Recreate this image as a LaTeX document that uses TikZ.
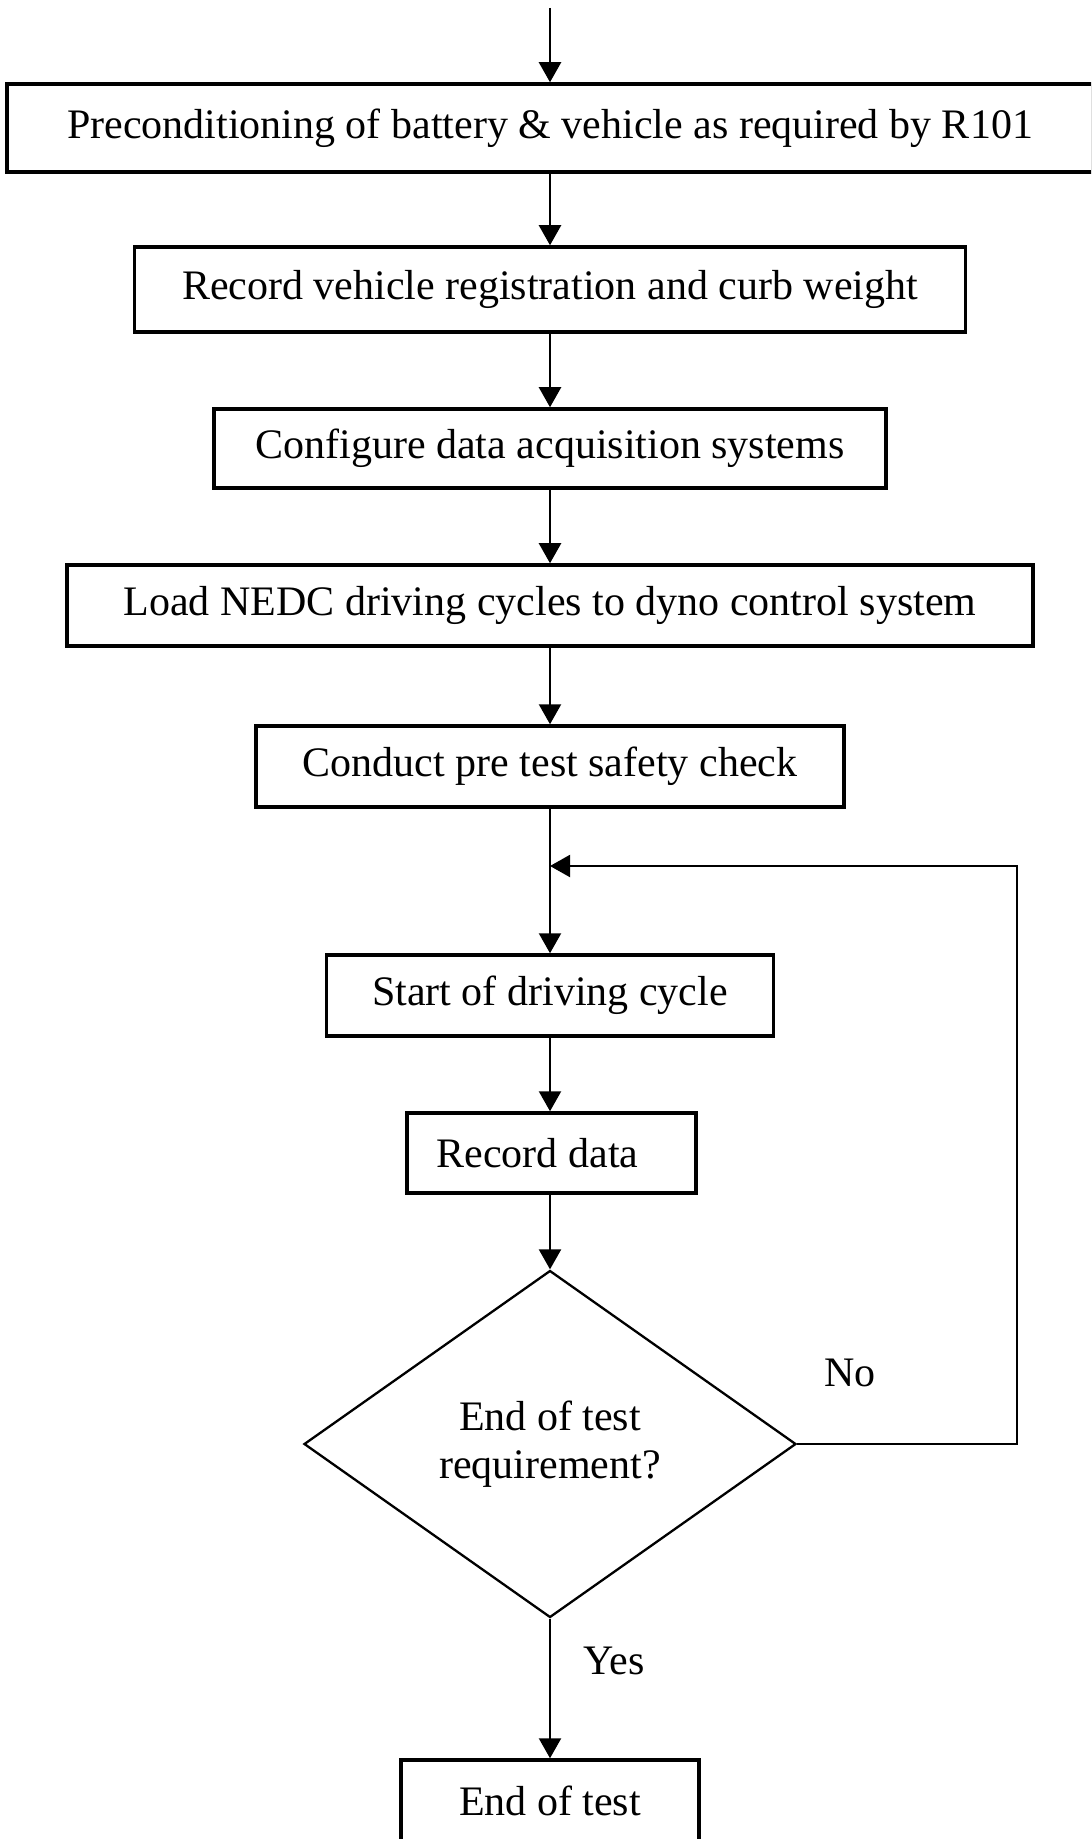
\documentclass[tikz,border=0pt]{standalone}
\usepackage{fontspec}
\setmainfont{Liberation Serif}
\usetikzlibrary{arrows.meta,shapes.geometric}
\begin{document}
\begin{tikzpicture}[x=0.5pt,y=-0.5pt,
  txt/.style={font=\fontsize{21}{24}\selectfont},
  box/.style={txt,draw,line width=1.75pt,inner sep=0pt,align=center},
  arr/.style={-{Triangle[length=10pt,width=11pt]},line width=1.15pt},
  loopline/.style={line width=1pt}]
\useasboundingbox (0,0) rectangle (1091,1839);
\clip (0,0) rectangle (1091,1839);
\node[box,minimum width=543pt,minimum height=44pt] (b1) at (550,128) {Preconditioning of battery \& vehicle as required by R101};
\node[box,minimum width=415.5pt,minimum height=42.5pt] (b2) at (550,289.5) {Record vehicle registration and curb weight};
\node[box,minimum width=336pt,minimum height=39.5pt] (b3) at (550,448.5) {Configure data acquisition systems};
\node[box,minimum width=483pt,minimum height=40.5pt] (b4) at (550,605.5) {Load NEDC driving cycles to dyno control system};
\node[box,minimum width=294pt,minimum height=40.5pt] (b5) at (550,766.5) {Conduct pre test safety check};
\node[box,minimum width=223.5pt,minimum height=40.5pt] (b6) at (550,995.5) {Start of driving cycle};
\node[box,minimum width=144.5pt,minimum height=40pt] (b7) at (551.5,1153) {Record data\hspace{14pt}};
\node[txt,draw,shape=diamond,line width=1.15pt,inner sep=0pt,align=center,minimum width=246pt,minimum height=173.5pt] (dia) at (550,1444) {End of test\\requirement?};
\node[box,minimum width=149pt,minimum height=41pt] (b8) at (550,1801) {End of test};
\node[txt] (no) at (850,1373) {No};
\node[txt] (yes) at (614,1661) {Yes};
\coordinate (top) at (550,8);
\coordinate (jn) at (550,866);
\draw[arr] (top) -- (b1);
\draw[arr] (b1) -- (b2);
\draw[arr] (b2) -- (b3);
\draw[arr] (b3) -- (b4);
\draw[arr] (b4) -- (b5);
\draw[arr] (b5) -- (b6);
\draw[arr] (b6) -- (b7.north -| b6.south);
\draw[arr] (b7.south -| b6.south) -- (dia);
\draw[arr] (dia) -- (b8);
\draw[loopline,-{Triangle[length=10pt,width=11pt]}] (dia.east) -- ++(220,0) |- (jn);
\end{tikzpicture}
\end{document}
